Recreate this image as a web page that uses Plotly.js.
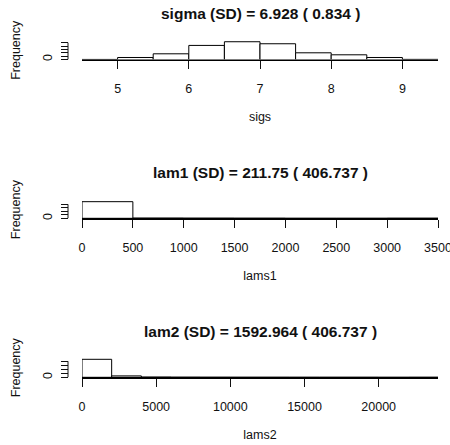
<!DOCTYPE html>
<html>
<head>
<meta charset="utf-8">
<script src="https://cdn.plot.ly/plotly-3.0.1.min.js"></script>
<style>html,body{margin:0;padding:0;background:#fff;}#chart{width:450px;height:445px;}</style>
</head>
<body>
<div id="chart"></div>
<script>
// ---- data ----
const sigsBreaks = [4.5, 5, 5.5, 6, 6.5, 7, 7.5, 8, 8.5, 9, 9.5];
const sigsCounts = [1, 30, 85, 210, 265, 235, 100, 70, 30, 2];
const sigsTicks = [5, 6, 7, 8, 9];

const lams1Breaks = [0, 500, 1000, 1500, 2000, 2500, 3000, 3500];
const lams1Counts = [955, 12, 8, 5, 0, 0, 4];
const lams1Ticks = [0, 500, 1000, 1500, 2000, 2500, 3000, 3500];

const lams2Breaks = [0, 2000, 4000, 6000, 8000, 10000, 12000, 14000, 16000, 18000, 20000, 22000, 24000];
const lams2Counts = [900, 70, 12, 6, 4, 2, 2, 1, 1, 1, 0, 1];
const lams2Ticks = [0, 5000, 10000, 15000, 20000];

const panelTitles = ["sigma (SD) = 6.928 ( 0.834 )", "lam1 (SD) = 211.75 ( 406.737 )", "lam2 (SD) = 1592.964 ( 406.737 )"];
const xTitles = ["sigs", "lams1", "lams2"];
const freqTicks1 = [0, 50, 100, 150, 200, 250];
const freqTicks2 = [0, 200, 400, 600, 800];
const freqTicks3 = [0, 200, 400, 600, 800];

// ---- helpers ----
function histTrace(breaks, counts, xa, ya) {
  const x = [], w = [];
  for (let i = 0; i < counts.length; i++) {
    x.push((breaks[i] + breaks[i + 1]) / 2);
    w.push(breaks[i + 1] - breaks[i]);
  }
  return {
    type: 'bar', x: x, y: counts, width: w, xaxis: xa, yaxis: ya,
    marker: {color: '#ffffff', line: {color: '#000000', width: 1}},
    hoverinfo: 'x+y', showlegend: false
  };
}

const FONT = 'Liberation Sans, Arial, sans-serif';
const TXT = '#111';
const xDom = [82 / 450, 438 / 450];
const yPos = 68 / 450;

function xAxis(range, ticks, title, anchor) {
  return {
    domain: xDom, range: range, anchor: anchor,
    tickvals: ticks, ticktext: ticks.map(String),
    ticks: 'outside', ticklen: 8, tickwidth: 1, tickcolor: '#111',
    showline: true, linecolor: '#000', linewidth: 1.6,
    showgrid: false, zeroline: false,
    ticklabelstandoff: 9,
    ticklabeloverflow: 'allow',
    tickfont: {family: FONT, size: 12.5, color: TXT},
    title: {text: title, font: {family: FONT, size: 12.5, color: TXT}, standoff: 17},
    fixedrange: true
  };
}
function yAxis(domain, range, ticks) {
  return {
    domain: domain, range: range, anchor: 'free', position: yPos,
    tickvals: ticks, ticktext: ticks.map(v => v === 0 ? '0' : ''),
    tickangle: -90,
    ticks: 'outside', ticklen: 7, tickwidth: 1, tickcolor: '#111',
    showline: false, showgrid: false, zeroline: false,
    ticklabelstandoff: 4,
    tickfont: {family: FONT, size: 12.5, color: TXT},
    title: {text: 'Frequency', font: {family: FONT, size: 12.5, color: TXT}, standoff: 16},
    fixedrange: true
  };
}

const data = [
  histTrace(sigsBreaks, sigsCounts, 'x', 'y'),
  histTrace(lams1Breaks, lams1Counts, 'x2', 'y2'),
  histTrace(lams2Breaks, lams2Counts, 'x3', 'y3')
];

const H = 445;
const d1 = [(H - 59.5) / H, (H - 41) / H];
const d2 = [(H - 218.3) / H, (H - 200.9) / H];
const d3 = [(H - 377.3) / H, (H - 358.1) / H];

// vertical y-axis lines spanning the tick range (as in base R axis)
function yLine(ticks, yref) {
  return {type: 'line', xref: 'paper', yref: yref, x0: yPos, x1: yPos,
          y0: ticks[0], y1: ticks[ticks.length - 1], line: {color: '#111', width: 1}};
}

function titleAnn(text, ypix) {
  return {text: '<b>' + text + '</b>', xref: 'paper', yref: 'paper', x: 260 / 450, y: (H - ypix) / H,
          showarrow: false, xanchor: 'center', yanchor: 'middle',
          font: {family: FONT, size: 15.5, color: TXT}};
}

const layout = {
  width: 450, height: 445,
  margin: {l: 0, r: 0, t: 0, b: 0},
  paper_bgcolor: '#fff', plot_bgcolor: '#fff',
  bargap: 0,
  showlegend: false,
  xaxis: xAxis([4.5, 9.5], sigsTicks, xTitles[0], 'y'),
  yaxis: yAxis(d1, [0, 276], freqTicks1),
  xaxis2: xAxis([0, 3500], lams1Ticks, xTitles[1], 'y2'),
  yaxis2: yAxis(d2, [0, 1000], freqTicks2),
  xaxis3: xAxis([0, 24000], lams2Ticks, xTitles[2], 'y3'),
  yaxis3: yAxis(d3, [0, 960], freqTicks3),
  shapes: [yLine(freqTicks1, 'y'), yLine(freqTicks2, 'y2'), yLine(freqTicks3, 'y3')],
  annotations: [
    titleAnn(panelTitles[0], 13),
    titleAnn(panelTitles[1], 172.7),
    titleAnn(panelTitles[2], 331.7)
  ]
};

Plotly.newPlot('chart', data, layout, {displayModeBar: false, staticPlot: true});
</script>
</body>
</html>
